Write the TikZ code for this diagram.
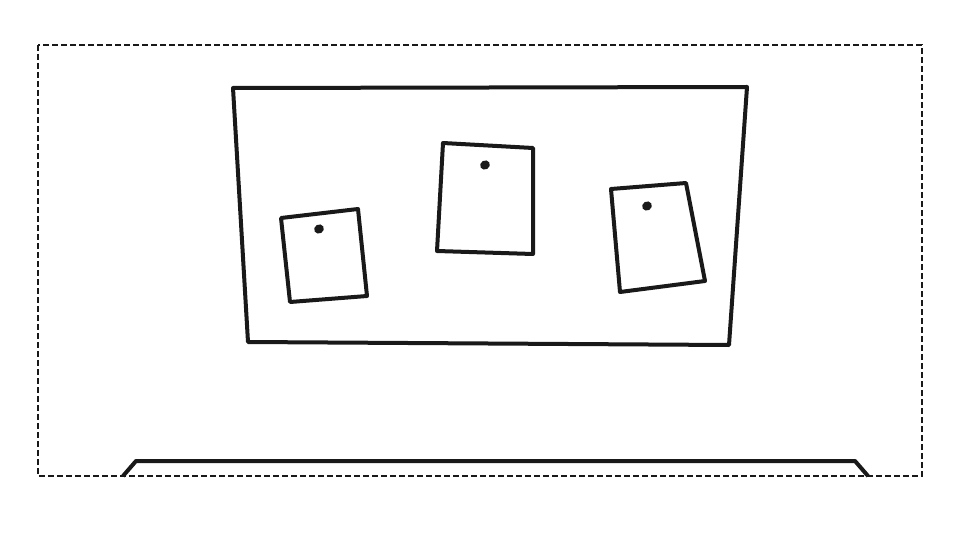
\documentclass[tikz,border=0pt]{standalone}
\begin{document}
\begin{tikzpicture}[x=1pt, y=-1pt,
  outline/.style={draw=black!90, line width=4pt, line join=round, line cap=round},
  pin/.style={fill=black!90},
  frame/.style={draw=black!90, line width=1.2pt, dash pattern=on 6pt off 3pt}]
\useasboundingbox (0,0) rectangle (960,540);
% view frame
\draw [frame] (38,45) rectangle (922,476);
% board
\draw [outline] (233,88) -- (747,87) -- (729,345) -- (248,342) -- cycle;
% notes with pins
\draw [outline] (281,218) -- (358,209) -- (367,296) -- (290,302) -- cycle;
\fill [pin, rotate around={30:(319,229)}] (319,229) ellipse (5pt and 4.5pt);
\draw [outline] (443,143) -- (533,148) -- (533,254) -- (437,251) -- cycle;
\fill [pin, rotate around={30:(485,165)}] (485,165) ellipse (5pt and 4.5pt);
\draw [outline] (611,189) -- (686,183) -- (705,281) -- (620,292) -- cycle;
\fill [pin, rotate around={30:(647,206)}] (647,206) ellipse (5pt and 4.5pt);
% table top
\draw [outline, line cap=butt] (123,476) -- (136,461) -- (855,461) -- (868,476);
\end{tikzpicture}
\end{document}
